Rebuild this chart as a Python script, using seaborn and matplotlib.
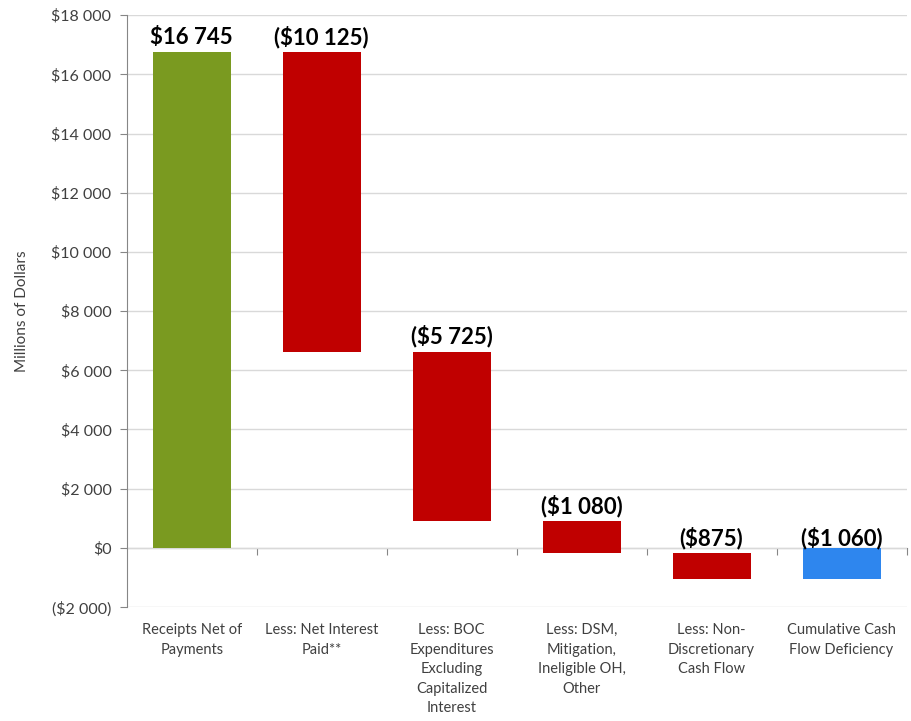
import numpy as np
import pandas as pd
import matplotlib
matplotlib.use('Agg')
import matplotlib.pyplot as plt
import seaborn as sns

# data
categories = ['Receipts Net of\nPayments', 'Less: Net Interest\nPaid**',
              'Less: BOC\nExpenditures\nExcluding\nCapitalized\nInterest',
              'Less: DSM,\nMitigation,\nIneligible OH,\nOther',
              'Less: Non-\nDiscretionary\nCash Flow', 'Cumulative Cash\nFlow Deficiency']
changes = [16745, -10125, -5725, -1080, -875]
total = -1060
bar_labels = ['$16 745', '($10 125)', '($5 725)', '($1 080)', '($875)', '($1 060)']
bar_colors = ['#7A9A20', '#C00000', '#C00000', '#C00000', '#C00000', '#2E86EE']

# waterfall starts / heights
starts = np.concatenate([[0], np.cumsum(changes)[:-1], [0]])
heights = np.array(changes + [total])
tops = np.maximum(starts, starts + heights)

df = pd.DataFrame({'category': categories, 'height': heights, 'start': starts})

sns.set_style('white')
plt.rcParams['font.family'] = ['Lato', 'DejaVu Sans']

fig = plt.figure(figsize=(9.12, 7.21), dpi=100)
ax = fig.add_axes([0.139, 0.158, 0.855, 0.821])

sns.barplot(data=df, x='category', y='height', bottom=df['start'].values,
            color='#C00000', width=0.6, ax=ax, zorder=3)
for patch, c in zip(ax.patches, bar_colors):
    patch.set_facecolor(c)
    patch.set_edgecolor('none')

# value labels
for i, (t, lab) in enumerate(zip(tops, bar_labels)):
    off = -1 if i == len(bar_labels) - 1 else 3
    ax.annotate(lab, (i, t), xytext=(0, off), textcoords='offset points',
                ha='center', va='bottom', fontsize=16, fontweight='bold',
                color='black', zorder=5)

ax.set_ylim(-2000, 18000)
ax.set_xlim(-0.5, 5.5)
ax.set_yticks(np.arange(-2000, 18001, 2000))


def money(v, pos=None):
    s = '${:,.0f}'.format(abs(v)).replace(',', ' ')
    return '(' + s + ')' if v < 0 else s


ax.yaxis.set_major_formatter(plt.FuncFormatter(money))
ax.grid(axis='y', color='#D9D9D9', linewidth=1, zorder=0)
ax.set_axisbelow(True)
for side in ['top', 'right', 'bottom']:
    ax.spines[side].set_visible(False)
ax.spines['left'].set_color('#868686')
ax.tick_params(axis='y', left=True, length=5, color='#868686',
               labelsize=11.5, labelcolor='#404040', pad=6)
ax.tick_params(axis='x', bottom=False, labelsize=10.5, labelcolor='#404040', pad=8)
for lbl in ax.get_xticklabels():
    lbl.set_linespacing(1.5)
ax.set_xlabel('')
ax.set_ylabel('Millions of Dollars', fontsize=11, color='#404040', labelpad=16)

# zero axis line with category boundary ticks
zero_ax = ax.secondary_xaxis(2000 / 20000)
zero_ax.spines['bottom'].set_color('#868686')
zero_ax.set_xticks(np.arange(0.5, 6, 1))
zero_ax.tick_params(length=5, color='#868686', labelbottom=False)

fig.savefig('out.png', dpi=100)
